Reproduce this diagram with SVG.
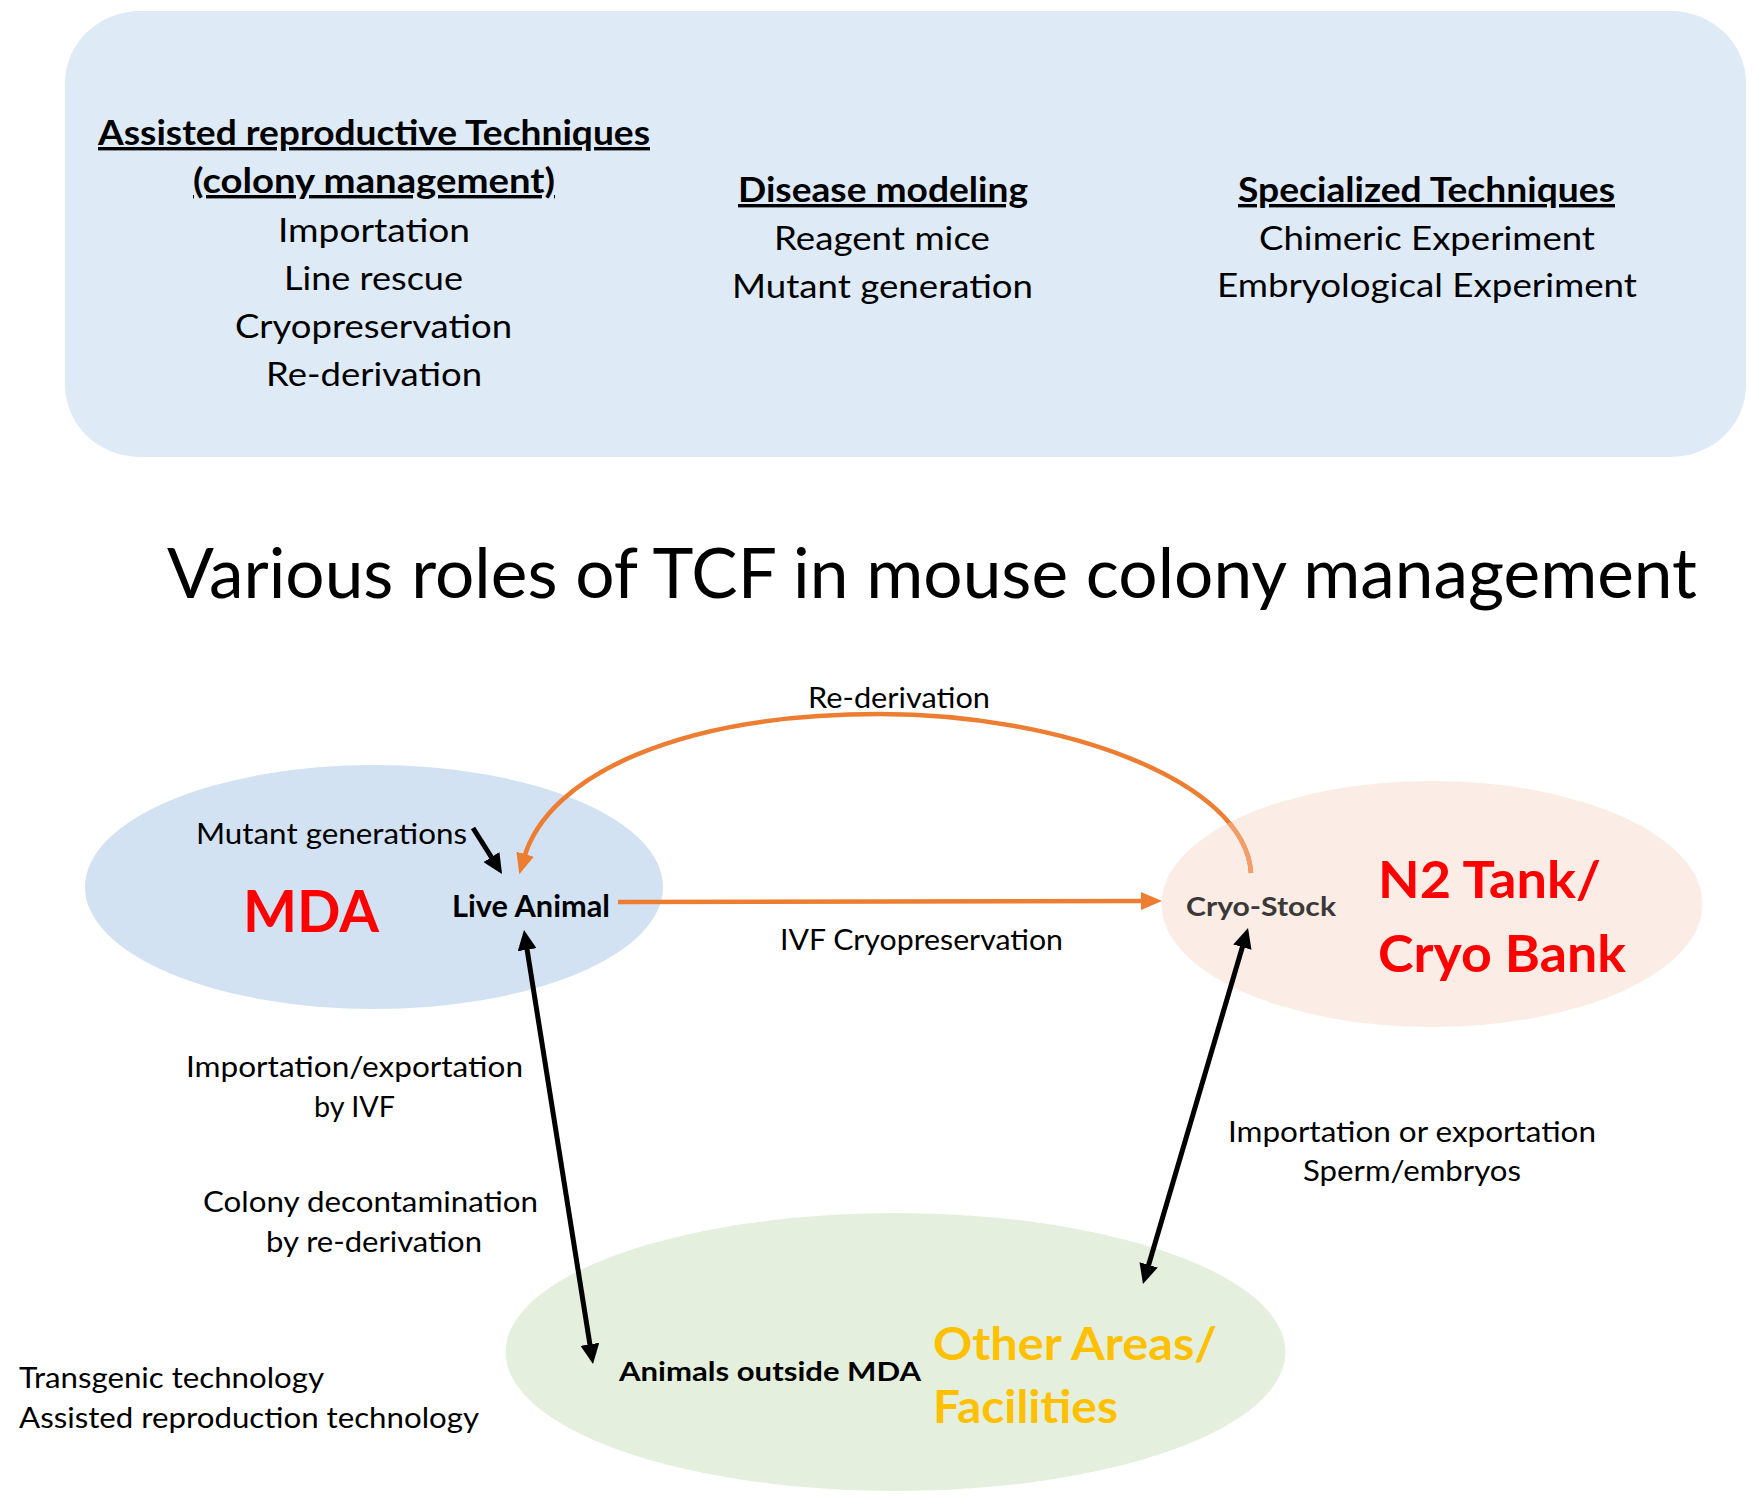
<svg xmlns="http://www.w3.org/2000/svg" width="1761" height="1508" viewBox="0 0 1761 1508">
<style>
  text { font-family: Lato, "Liberation Sans", sans-serif; fill: #000; }
  .c { text-anchor: middle; }
  .reg { font-size: 33px; }
  .head { font-size: 34px; font-weight: bold; text-decoration: underline; text-underline-offset: 5px; }
  .lbl { font-size: 29px; }
  .bl { font-weight: bold; }
  .red { fill: #FF0000; font-weight: bold; }
  .yel { fill: #FFC000; font-weight: bold; }
  .blk { fill: none; stroke: #000; stroke-width: 5; }
  .org { fill: none; stroke: #ED7D31; stroke-width: 4.5; }
</style>
<defs>
  <marker id="hb" viewBox="0 0 20 19" refX="4" refY="9.5" markerWidth="20" markerHeight="19" markerUnits="userSpaceOnUse" orient="auto-start-reverse">
    <path d="M0,0 L20,9.5 L0,19 z" fill="#000"/>
  </marker>
  <marker id="ho" viewBox="0 0 21 18" refX="4" refY="9" markerWidth="21" markerHeight="18" markerUnits="userSpaceOnUse" orient="auto">
    <path d="M0,0 L21,9 L0,18 z" fill="#ED7D31"/>
  </marker>
  <clipPath id="cryoClip">
    <ellipse cx="1432" cy="904" rx="270" ry="123"/>
  </clipPath>
</defs>
<rect width="1761" height="1508" fill="#FFFFFF"/>

<g id="techniques">
  <rect x="65" y="11" width="1681" height="446" rx="75" ry="72" fill="#DEEAF6"/>
  <text class="head c" x="374" y="145" textLength="552" lengthAdjust="spacingAndGlyphs">Assisted reproductive Techniques</text>
  <text class="head c" x="374" y="193" textLength="362" lengthAdjust="spacingAndGlyphs">(colony management)</text>
  <text class="reg c" x="374" y="242" textLength="192" lengthAdjust="spacingAndGlyphs">Importation</text>
  <text class="reg c" x="373.5" y="290" textLength="179" lengthAdjust="spacingAndGlyphs">Line rescue</text>
  <text class="reg c" x="373.5" y="338" textLength="277" lengthAdjust="spacingAndGlyphs">Cryopreservation</text>
  <text class="reg c" x="374" y="386" textLength="216" lengthAdjust="spacingAndGlyphs">Re-derivation</text>
  <text class="head c" x="883" y="202" textLength="290" lengthAdjust="spacingAndGlyphs">Disease modeling</text>
  <text class="reg c" x="882" y="250" textLength="216" lengthAdjust="spacingAndGlyphs">Reagent mice</text>
  <text class="reg c" x="882.5" y="298" textLength="301" lengthAdjust="spacingAndGlyphs">Mutant generation</text>
  <text class="head c" x="1426.5" y="202" textLength="377" lengthAdjust="spacingAndGlyphs">Specialized Techniques</text>
  <text class="reg c" x="1427" y="250" textLength="336" lengthAdjust="spacingAndGlyphs">Chimeric Experiment</text>
  <text class="reg c" x="1427" y="297" textLength="420" lengthAdjust="spacingAndGlyphs">Embryological Experiment</text>
</g>

<g id="title">
  <text x="932" y="598" class="c" font-size="70" style="font-size:70px" textLength="1530" lengthAdjust="spacingAndGlyphs">Various roles of TCF in mouse colony management</text>
</g>

<g id="mda">
  <ellipse cx="374" cy="887" rx="289" ry="122" fill="#D2E2F2"/>
  <text class="red" x="243" y="932" font-size="58" textLength="136" lengthAdjust="spacingAndGlyphs">MDA</text>
  <text class="bl" x="452" y="917" font-size="30" textLength="158" lengthAdjust="spacingAndGlyphs">Live Animal</text>
</g>

<g id="others">
  <ellipse cx="895.5" cy="1352" rx="390" ry="139" fill="#E4F0DD"/>
  <text class="bl" x="619" y="1381" font-size="27" textLength="302" lengthAdjust="spacingAndGlyphs">Animals outside MDA</text>
  <text class="yel" x="933" y="1360" font-size="46" textLength="284" lengthAdjust="spacingAndGlyphs">Other Areas/</text>
  <text class="yel" x="933" y="1423" font-size="46" textLength="185" lengthAdjust="spacingAndGlyphs">Facilities</text>
</g>

<g id="cryobank">
  <ellipse cx="1432" cy="904" rx="270.5" ry="123" fill="#FBEDE5"/>
  <text class="bl" x="1186" y="916" font-size="27" style="fill:#3B3838" textLength="150" lengthAdjust="spacingAndGlyphs">Cryo-Stock</text>
  <text class="red" x="1378" y="898" font-size="52" textLength="223" lengthAdjust="spacingAndGlyphs">N2 Tank/</text>
  <text class="red" x="1378" y="972" font-size="52" textLength="248" lengthAdjust="spacingAndGlyphs">Cryo Bank</text>
</g>

<g id="connectors">
  <path class="org" d="M1251,873 C1245,780 1060,714 880,714 C680,714 548,775 524,858" marker-end="url(#ho)"/>
  <path d="M1251,873 C1245,780 1060,714 880,714" fill="none" stroke="#F19E68" stroke-width="4.5" clip-path="url(#cryoClip)"/>
  <line class="org" x1="618" y1="902" x2="1145" y2="901" marker-end="url(#ho)"/>
  <line class="blk" x1="473" y1="828" x2="493.5" y2="860.5" marker-end="url(#hb)"/>
  <line class="blk" x1="526.5" y1="945.8" x2="590.5" y2="1348.2" marker-start="url(#hb)" marker-end="url(#hb)"/>
  <line class="blk" x1="1243.5" y1="943.3" x2="1147.5" y2="1268.7" marker-start="url(#hb)" marker-end="url(#hb)"/>
</g>

<g id="labels">
  <text x="196" y="844" style="font-size:28px" textLength="271" lengthAdjust="spacingAndGlyphs">Mutant generations</text>
  <text class="lbl c" x="899" y="708" textLength="182" lengthAdjust="spacingAndGlyphs">Re-derivation</text>
  <text class="lbl c" x="921.5" y="950" textLength="283" lengthAdjust="spacingAndGlyphs">IVF Cryopreservation</text>
  <text class="lbl c" x="354.5" y="1077" textLength="337" lengthAdjust="spacingAndGlyphs">Importation/exportation</text>
  <text class="lbl c" x="354.5" y="1117" textLength="81" lengthAdjust="spacingAndGlyphs">by IVF</text>
  <text class="lbl c" x="370.5" y="1212" textLength="335" lengthAdjust="spacingAndGlyphs">Colony decontamination</text>
  <text class="lbl c" x="374" y="1252" textLength="216" lengthAdjust="spacingAndGlyphs">by re-derivation</text>
  <text class="lbl" x="19" y="1388" textLength="305" lengthAdjust="spacingAndGlyphs">Transgenic technology</text>
  <text class="lbl" x="19" y="1428" textLength="460" lengthAdjust="spacingAndGlyphs">Assisted reproduction technology</text>
  <text class="lbl c" x="1412" y="1142" textLength="368" lengthAdjust="spacingAndGlyphs">Importation or exportation</text>
  <text class="lbl c" x="1412" y="1181" textLength="218" lengthAdjust="spacingAndGlyphs">Sperm/embryos</text>
</g>
</svg>
